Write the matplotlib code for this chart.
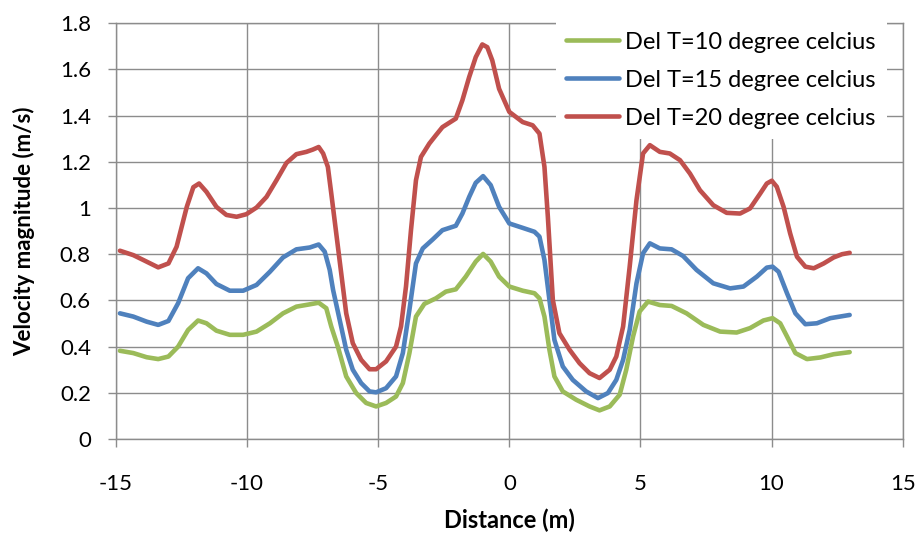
import matplotlib
matplotlib.use('Agg')
import matplotlib.pyplot as plt
from matplotlib.ticker import FixedLocator

plt.rcParams['font.family'] = ['Lato', 'DejaVu Sans']

# Profile readings along the distance axis for each temperature difference
red_x = [-14.85, -14.34, -13.96, -13.39, -13.0, -12.69, -12.3, -12.05, -11.83, -11.55,
         -11.17, -10.79, -10.4, -10.03, -9.64, -9.26, -8.88, -8.5, -8.12, -7.74,
         -7.49, -7.27, -7.1, -6.92, -6.79, -6.6, -6.41, -6.22, -5.97, -5.65,
         -5.33, -5.08, -4.7, -4.32, -4.13, -3.94, -3.75, -3.56, -3.37, -3.05,
         -2.8, -2.55, -2.04, -1.79, -1.53, -1.28, -1.03, -0.84, -0.65, -0.39,
         0.0, 0.51, 0.89, 1.15, 1.34, 1.47, 1.66, 1.91, 2.3, 2.68,
         3.06, 3.44, 3.83, 4.08, 4.34, 4.59, 4.85, 5.1, 5.36, 5.74,
         6.12, 6.51, 6.89, 7.27, 7.78, 8.29, 8.8, 9.18, 9.57, 9.82,
         10.01, 10.2, 10.46, 10.71, 10.97, 11.29, 11.61, 11.99, 12.37, 12.69, 12.98]
red_y = [0.815, 0.796, 0.775, 0.743, 0.76, 0.832, 1.005, 1.09, 1.106, 1.07,
         1.005, 0.97, 0.962, 0.973, 1.002, 1.048, 1.12, 1.195, 1.233, 1.243,
         1.253, 1.264, 1.236, 1.178, 1.063, 0.89, 0.717, 0.544, 0.415, 0.343,
         0.302, 0.302, 0.336, 0.4, 0.487, 0.66, 0.904, 1.12, 1.221, 1.279,
         1.315, 1.35, 1.387, 1.466, 1.567, 1.653, 1.708, 1.696, 1.639, 1.516,
         1.416, 1.372, 1.358, 1.322, 1.178, 0.962, 0.602, 0.458, 0.386, 0.328,
         0.285, 0.264, 0.3, 0.357, 0.487, 0.746, 1.034, 1.236, 1.272, 1.243,
         1.236, 1.207, 1.149, 1.077, 1.012, 0.979, 0.976, 0.998, 1.063, 1.106,
         1.118, 1.092, 1.005, 0.89, 0.789, 0.746, 0.739, 0.76, 0.786, 0.8, 0.806]

blue_x = [-14.85, -14.34, -13.83, -13.39, -13.0, -12.63, -12.25, -11.87, -11.55, -11.17,
          -10.66, -10.15, -9.64, -9.13, -8.63, -8.12, -7.61, -7.27, -7.04, -6.85,
          -6.72, -6.47, -6.22, -5.97, -5.65, -5.33, -5.08, -4.7, -4.32, -4.06,
          -3.81, -3.56, -3.3, -2.92, -2.55, -2.04, -1.79, -1.53, -1.28, -1.0,
          -0.71, -0.39, 0.0, 0.51, 0.96, 1.15, 1.34, 1.53, 1.72, 2.04,
          2.42, 2.93, 3.38, 3.76, 4.08, 4.34, 4.59, 4.85, 5.1, 5.36,
          5.74, 6.19, 6.63, 7.14, 7.78, 8.42, 8.93, 9.44, 9.82, 10.04,
          10.27, 10.59, 10.91, 11.29, 11.73, 12.24, 12.98]
blue_y = [0.544, 0.53, 0.508, 0.494, 0.511, 0.588, 0.696, 0.739, 0.717, 0.671,
          0.642, 0.642, 0.667, 0.724, 0.786, 0.821, 0.829, 0.842, 0.811, 0.732,
          0.645, 0.516, 0.386, 0.3, 0.242, 0.206, 0.202, 0.22, 0.271, 0.372,
          0.559, 0.76, 0.825, 0.864, 0.904, 0.923, 0.976, 1.048, 1.109, 1.138,
          1.099, 1.005, 0.933, 0.914, 0.897, 0.876, 0.775, 0.602, 0.429, 0.314,
          0.256, 0.206, 0.177, 0.199, 0.256, 0.343, 0.472, 0.674, 0.804, 0.847,
          0.825, 0.821, 0.792, 0.732, 0.674, 0.652, 0.66, 0.703, 0.742, 0.746,
          0.724, 0.631, 0.544, 0.497, 0.501, 0.523, 0.537]

green_x = [-14.85, -14.34, -13.83, -13.39, -13.0, -12.63, -12.25, -11.87, -11.55, -11.17,
           -10.66, -10.15, -9.64, -9.13, -8.63, -8.12, -7.61, -7.27, -6.98, -6.79,
           -6.54, -6.22, -5.84, -5.46, -5.08, -4.7, -4.32, -4.06, -3.81, -3.56,
           -3.24, -2.8, -2.42, -2.04, -1.66, -1.28, -1.0, -0.71, -0.39, 0.0,
           0.51, 0.96, 1.15, 1.34, 1.53, 1.72, 2.04, 2.55, 3.06, 3.44,
           3.83, 4.21, 4.46, 4.72, 4.97, 5.29, 5.74, 6.19, 6.76, 7.4,
           8.04, 8.67, 9.18, 9.69, 10.04, 10.33, 10.59, 10.91, 11.35, 11.86, 12.37, 12.98]
green_y = [0.382, 0.372, 0.354, 0.346, 0.357, 0.4, 0.472, 0.513, 0.501, 0.469,
           0.451, 0.451, 0.465, 0.501, 0.544, 0.573, 0.583, 0.59, 0.566, 0.487,
           0.4, 0.271, 0.199, 0.156, 0.141, 0.156, 0.184, 0.242, 0.372, 0.53,
           0.585, 0.609, 0.638, 0.648, 0.703, 0.768, 0.801, 0.768, 0.703, 0.66,
           0.642, 0.631, 0.609, 0.53, 0.386, 0.271, 0.206, 0.17, 0.141, 0.124,
           0.141, 0.192, 0.3, 0.444, 0.552, 0.595, 0.58, 0.576, 0.544, 0.494,
           0.465, 0.461, 0.48, 0.513, 0.523, 0.501, 0.444, 0.372, 0.346, 0.353, 0.367, 0.376]

x_ticks = [-15, -10, -5, 0, 5, 10, 15]
y_ticks = [0, 0.2, 0.4, 0.6, 0.8, 1.0, 1.2, 1.4, 1.6, 1.8]
y_tick_labels = ['0', '0.2', '0.4', '0.6', '0.8', '1', '1.2', '1.4', '1.6', '1.8']

grid_col = '#8c8c8c'

fig = plt.figure(figsize=(9.22, 5.39), dpi=100)
ax = fig.add_axes([0.1258, 0.1855, 0.8532, 0.7715])

ax.plot(green_x, green_y, color='#9BBB59', lw=3.3, label='Del T=10 degree celcius', solid_capstyle='round')
ax.plot(blue_x, blue_y, color='#4F81BD', lw=3.3, label='Del T=15 degree celcius', solid_capstyle='round')
ax.plot(red_x, red_y, color='#C0504D', lw=3.3, label='Del T=20 degree celcius', solid_capstyle='round')

ax.set_xlim(-15, 15)
ax.set_ylim(0, 1.8)
ax.xaxis.set_major_locator(FixedLocator(x_ticks))
ax.set_xticklabels([str(t) for t in x_ticks])
ax.yaxis.set_major_locator(FixedLocator(y_ticks))
ax.set_yticklabels(y_tick_labels)

ax.grid(True, color=grid_col, lw=1.0)
ax.set_axisbelow(True)
for side in ax.spines.values():
    side.set_color(grid_col)
    side.set_linewidth(1.0)
ax.tick_params(axis='both', colors=grid_col, length=6, width=1.0, labelsize=16, labelcolor='black')
ax.tick_params(axis='x', pad=19)
ax.tick_params(axis='y', pad=12)

ax.set_xlabel('Distance (m)', fontsize=17, fontweight='bold', labelpad=11)
ax.set_ylabel('Velocity magnitude (m/s)', fontsize=16, fontweight='bold', labelpad=18)

# white box behind the legend hides the grid, no visible border
leg = ax.legend(loc='upper left', bbox_to_anchor=(0.559, 1.005), fontsize=17,
                frameon=True, fancybox=False, edgecolor='none', facecolor='white', framealpha=1,
                handlelength=2.25, handletextpad=0.25, labelspacing=0.72,
                borderpad=0.45, borderaxespad=0.0)

fig.savefig('out.png', dpi=100)
